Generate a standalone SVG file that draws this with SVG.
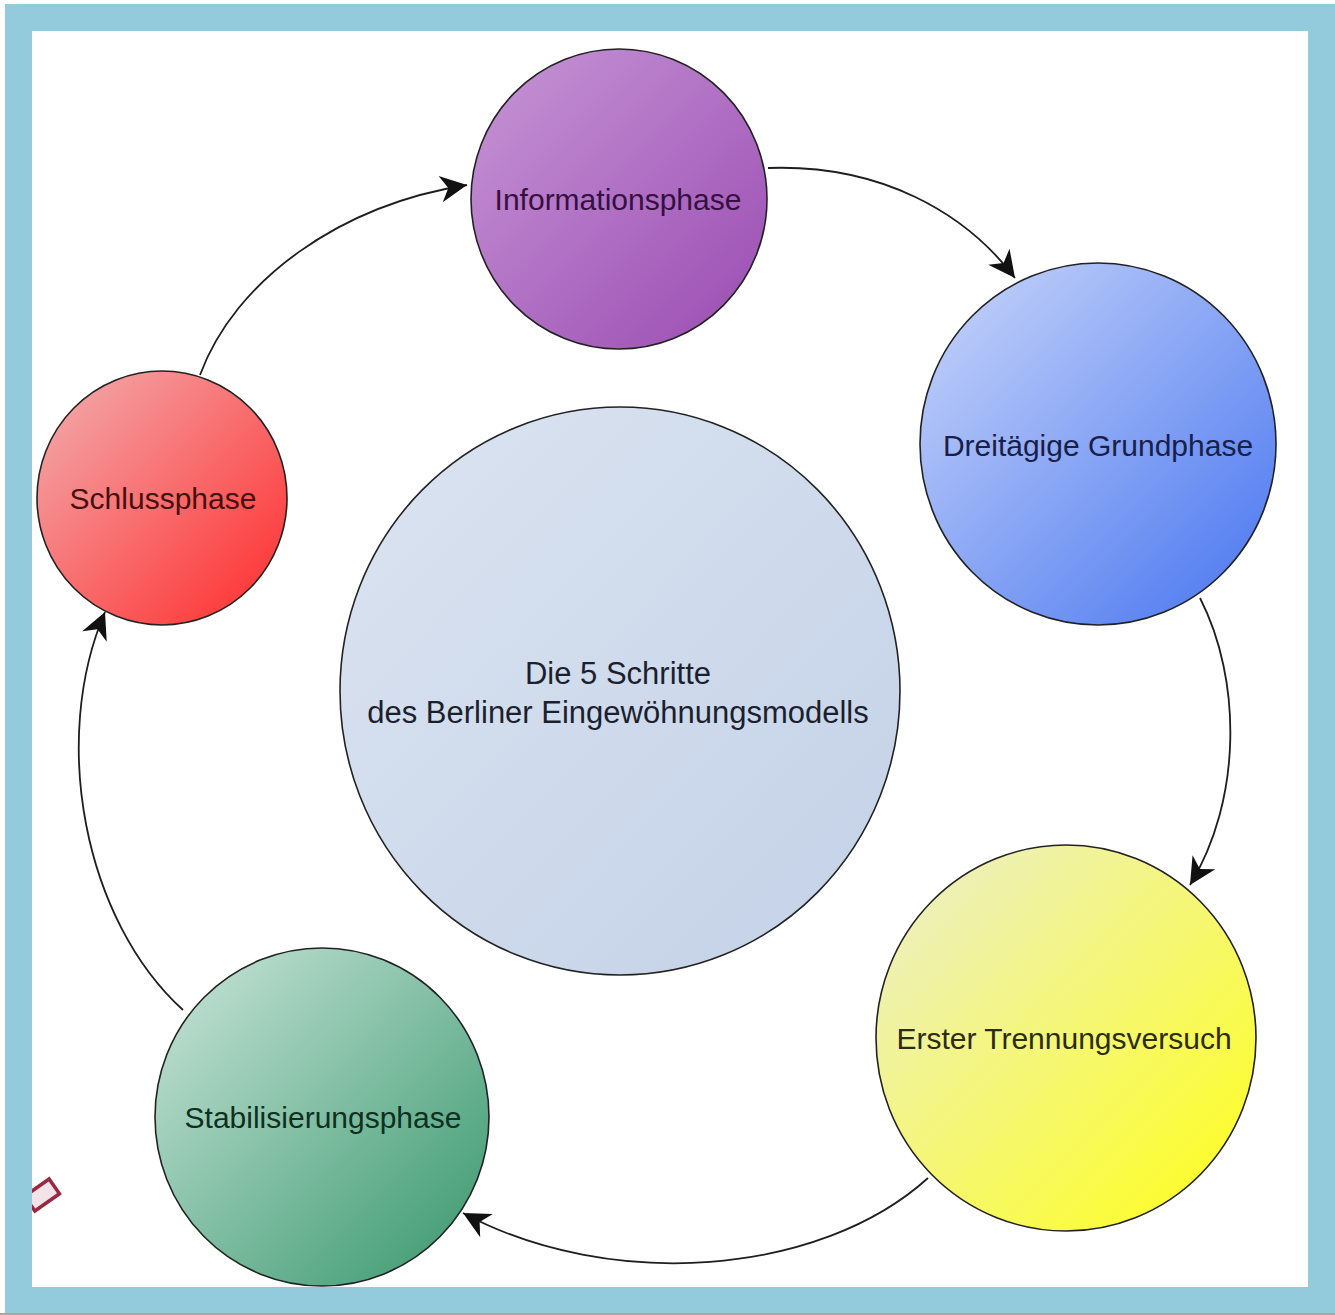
<svg xmlns="http://www.w3.org/2000/svg" width="1335" height="1315" viewBox="0 0 1335 1315">
<style>
.node{stroke:#222;stroke-width:1.6}
.lbl{font-family:"Liberation Sans",Arial,sans-serif;font-size:30px;text-anchor:middle}
.big{font-size:31px}
.conn{fill:none;stroke:#1e1e1e;stroke-width:1.8}
</style>
<defs>
<linearGradient id="gP" x1="0" y1="0" x2="1" y2="1"><stop offset="0" stop-color="#c796d6"/><stop offset="1" stop-color="#9a4bb2"/></linearGradient>
<linearGradient id="gB" x1="0" y1="0" x2="1" y2="1"><stop offset="0" stop-color="#cbd7fa"/><stop offset="1" stop-color="#4674f0"/></linearGradient>
<linearGradient id="gR" x1="0" y1="0" x2="1" y2="1"><stop offset="0" stop-color="#f2b0b2"/><stop offset="1" stop-color="#ff2a2a"/></linearGradient>
<linearGradient id="gY" x1="0" y1="0" x2="1" y2="1"><stop offset="0" stop-color="#ebeecf"/><stop offset="1" stop-color="#ffff18"/></linearGradient>
<linearGradient id="gG" x1="0" y1="0" x2="1" y2="1"><stop offset="0" stop-color="#cce6dc"/><stop offset="1" stop-color="#35966a"/></linearGradient>
<linearGradient id="gC" x1="0" y1="0" x2="1" y2="1"><stop offset="0" stop-color="#dbe4f1"/><stop offset="1" stop-color="#c3d1e7"/></linearGradient>
<marker id="arr" markerUnits="userSpaceOnUse" markerWidth="30" markerHeight="30" viewBox="-25 -13 27 26" refX="0" refY="0" orient="auto">
<path d="M0,0 L-24,-12 L-17,0 L-24,12 Z" fill="#111"/>
</marker>
</defs>
<rect x="0" y="0" width="1335" height="1315" fill="#ffffff"/>

<g id="icon">
<rect x="-15" y="-9" width="30" height="18" transform="translate(42,1195) rotate(-35)" fill="#f3e2e8" stroke="#9a2840" stroke-width="3.5"/>
</g>

<g id="connectors">
<path class="conn" d="M200,375 C235,280 340,205 467,185" marker-end="url(#arr)"/>
<path class="conn" d="M768,168 C880,164 965,212 1015,278" marker-end="url(#arr)"/>
<path class="conn" d="M1200,598 C1242,680 1242,800 1190,885" marker-end="url(#arr)"/>
<path class="conn" d="M928,1178 C820,1276 610,1292 463,1213" marker-end="url(#arr)"/>
<path class="conn" d="M183,1010 C84,920 50,740 105,612" marker-end="url(#arr)"/>
</g>

<g id="center">
<ellipse class="node" cx="620" cy="691" rx="280" ry="284" fill="url(#gC)"/>
<text class="lbl big" x="618" y="684" fill="#1c1f2e">Die 5 Schritte</text>
<text class="lbl big" x="618" y="723" fill="#1c1f2e">des Berliner Eingewöhnungsmodells</text>
</g>

<g id="informationsphase">
<ellipse class="node" cx="619" cy="199" rx="148" ry="150" fill="url(#gP)"/>
<text class="lbl" x="618" y="210" fill="#351040">Informationsphase</text>
</g>

<g id="grundphase">
<ellipse class="node" cx="1098" cy="444" rx="178" ry="181" fill="url(#gB)"/>
<text class="lbl" x="1098" y="456" fill="#18204a">Dreitägige Grundphase</text>
</g>

<g id="trennungsversuch">
<ellipse class="node" cx="1066" cy="1038" rx="190" ry="193" fill="url(#gY)"/>
<text class="lbl" x="1064" y="1049" fill="#2c2c10">Erster Trennungsversuch</text>
</g>

<g id="stabilisierungsphase">
<ellipse class="node" cx="322" cy="1117" rx="167" ry="169" fill="url(#gG)"/>
<text class="lbl" x="323" y="1128" fill="#10301f">Stabilisierungsphase</text>
</g>

<g id="schlussphase">
<ellipse class="node" cx="162" cy="498" rx="125" ry="127" fill="url(#gR)"/>
<text class="lbl" x="163" y="509" fill="#451010">Schlussphase</text>
</g>

<g id="frame">
<path d="M5,4 H1335 V1313 H5 Z M32,31 V1287 H1308 V31 Z" fill="#93cbdc" fill-rule="evenodd"/>
<rect x="0" y="1313" width="1335" height="2" fill="#a8a8a8"/>
</g>
</svg>
